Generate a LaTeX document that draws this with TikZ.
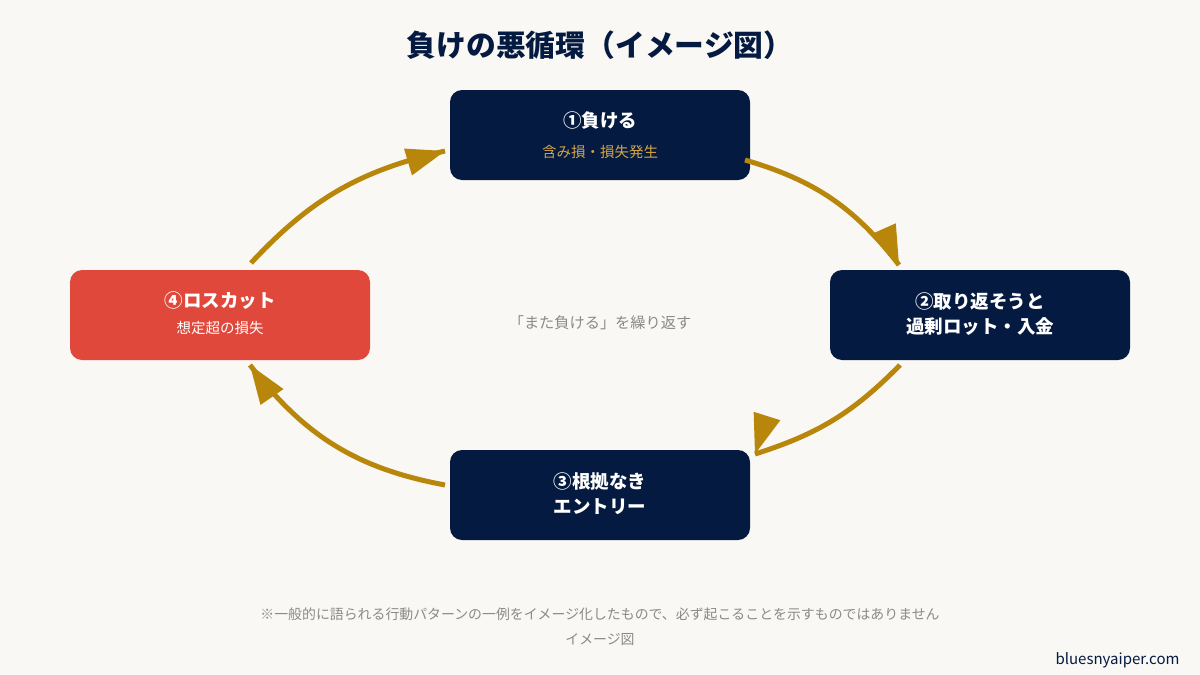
\documentclass[tikz,border=0pt]{standalone}
\usepackage{fontspec}
\setmainfont{Noto Sans CJK JP}
\usetikzlibrary{calc}
\definecolor{bgpaper}{HTML}{F9F8F5}
\definecolor{navy}{HTML}{041A40}
\definecolor{alertred}{HTML}{E0483C}
\definecolor{goldline}{HTML}{B8860B}
\definecolor{goldtext}{HTML}{D6A544}
\definecolor{greytext}{HTML}{8A8A8A}
\newcommand{\fsz}[1]{\fontsize{#1}{#1}\selectfont}
% triangular head: base midpoint #1, tip #2
\newcommand{\goldhead}[2]{%
  \fill[goldline] ($(#1)!14pt!90:(#2)$) -- (#2) -- ($(#1)!14pt!-90:(#2)$) -- cycle;}
\tikzset{
  stagebox/.style={rounded corners=12pt, minimum width=300pt, minimum height=90pt, inner sep=0pt},
  navybox/.style={stagebox, fill=navy},
  redbox/.style={stagebox, fill=alertred},
  headtxt/.style={text=white, font=\fsz{18.5}\bfseries, align=center},
  subtxt/.style={font=\fsz{14.5}},
  loop/.style={draw=goldline, line width=5pt},
}
\begin{document}
\begin{tikzpicture}[x=1pt, y=-1pt]
  % canvas
  \fill[bgpaper] (0,0) rectangle (1200,675);
  \useasboundingbox (0,0) rectangle (1200,675);

  % title
  \node[text=navy, font=\fsz{29.8}\bfseries] (title) at (600,45) {負けの悪循環（イメージ図）};

  % the four stages
  \node[navybox] (s1) at (600,135) {};
  \node[navybox] (s2) at (980,315) {};
  \node[navybox] (s3) at (600,495) {};
  \node[redbox]  (s4) at (220,315) {};

  \node[headtxt] (s1a) at (600,121) {①負ける};
  \node[subtxt, text=goldtext] (s1b) at (600,152) {含み損・損失発生};
  \node[headtxt] (s2a) at (980,301) {②取り返そうと};
  \node[headtxt] (s2b) at (980,327) {過剰ロット・入金};
  \node[headtxt] (s3a) at (600,481) {③根拠なき};
  \node[headtxt] (s3b) at (600,507) {エントリー};
  \node[headtxt] (s4a) at (220,301) {④ロスカット};
  \node[subtxt, text=white] (s4b) at (220,328) {想定超の損失};

  % centre caption
  \node[text=greytext, font=\fsz{15.2}] (mid) at (600,323) {「また負ける」を繰り返す};

  % connector ends: start (o), head base (b), tip (i)
  \coordinate (o1) at (745,160);
  \coordinate (b1) at (883,229);
  \coordinate (i2) at (899,265);
  \coordinate (o2) at (900,365);
  \coordinate (b2) at (767,416);
  \coordinate (i3) at (755,454);
  \coordinate (o3) at (445,485);
  \coordinate (b3) at (272,397);
  \coordinate (i4) at (250,365);
  \coordinate (o4) at (251,263);
  \coordinate (b4) at (408,162);
  \coordinate (i1) at (445,151);

  % curved shafts
  \draw[loop] (o1) to[bend left=18] (i2);
  \draw[loop] (o2) to[bend left=14] (i3);
  \draw[loop] (o3) to[bend left=21] (i4);
  \draw[loop] (o4) to[bend left=17] (i1);

  % heads
  \goldhead{b1}{i2}
  \goldhead{b2}{i3}
  \goldhead{b3}{i4}
  \goldhead{b4}{i1}

  % footnote
  \node[text=greytext, font=\fsz{13.9}] (note) at (600,614) {※一般的に語られる行動パターンの一例をイメージ化したもので、必ず起こることを示すものではありません};
  \node[text=greytext, font=\fsz{13.9}] (note2) at (600,640) {イメージ図};

  % site name
  \node[text=navy, font=\fsz{15}, anchor=east] (site) at (1183,660) {bluesnyaiper.com};
\end{tikzpicture}
\end{document}
